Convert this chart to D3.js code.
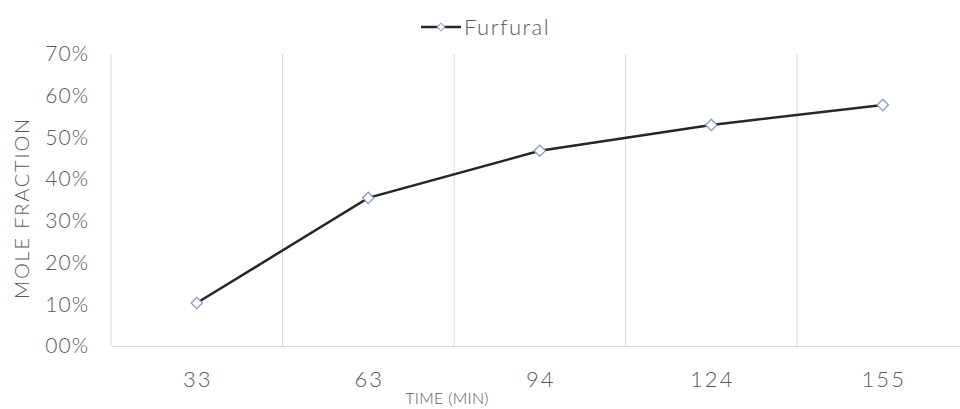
<!DOCTYPE html>
<html>
<head>
<meta charset="utf-8">
<script src="https://cdn.jsdelivr.net/npm/d3@7"></script>
<style>
  html, body { margin: 0; padding: 0; background: #fff; }
  svg { display: block; }
  svg text { font-family: "Lato", "Open Sans", sans-serif; font-weight: 300; }
</style>
</head>
<body>
<svg id="chart" width="960" height="409"></svg>
<script>
// Furfural mole fraction over reaction time
const categories = ["33", "63", "94", "124", "155"];
const furfural = [0.103, 0.355, 0.468, 0.530, 0.578];
const yTicks = [0, 0.1, 0.2, 0.3, 0.4, 0.5, 0.6, 0.7];
const seriesName = "Furfural";

const svg = d3.select("#chart");
const margin = { left: 111, right: -8.5, top: 54, bottom: 63 };
const W = 960, H = 409;

const x = d3.scaleBand()
  .domain(categories)
  .range([margin.left, W - margin.right])
  .padding(0);

const y = d3.scaleLinear()
  .domain([0, 0.7])
  .range([H - margin.bottom, margin.top]);

const textColor = "#595959";
const gridColor = "#d9d9d9";

// vertical gridlines at category boundaries
const bounds = categories.map(c => x(c)).concat([x(categories[categories.length - 1]) + x.bandwidth()]);
svg.append("g")
  .selectAll("line")
  .data(bounds)
  .join("line")
  .attr("x1", d => d).attr("x2", d => d)
  .attr("y1", y(0.7)).attr("y2", y(0))
  .attr("stroke", gridColor)
  .attr("stroke-width", 1);

// x axis
const xAxis = svg.append("g")
  .attr("transform", `translate(0,${y(0)})`)
  .call(d3.axisBottom(x).tickSize(0).tickPadding(25));
xAxis.select(".domain").attr("stroke", gridColor);
xAxis.selectAll("text")
  .attr("fill", textColor)
  .attr("dx", "1px")
  .style("font-size", "22px")
  .style("letter-spacing", "2px");

// y axis
const yFmt = v => (v === 0 ? "00" : d3.format(".0f")(v * 100)) + "%";
const yAxis = svg.append("g")
  .attr("transform", `translate(${margin.left},0)`)
  .call(d3.axisLeft(y).tickValues(yTicks).tickFormat(yFmt).tickSize(0).tickPadding(22));
yAxis.select(".domain").remove();
yAxis.selectAll("text")
  .attr("fill", textColor)
  .style("font-size", "21px")
  .style("letter-spacing", "1px");

// axis titles
svg.append("text")
  .attr("transform", `translate(29,${(y(0) + y(0.7)) / 2 + 8}) rotate(-90)`)
  .attr("text-anchor", "middle")
  .attr("fill", textColor)
  .style("font-size", "20px")
  .style("letter-spacing", "1.8px")
  .text("MOLE FRACTION");

svg.append("text")
  .attr("x", 447)
  .attr("y", 404)
  .attr("text-anchor", "middle")
  .attr("fill", textColor)
  .style("font-size", "16px")
  .style("letter-spacing", "0.3px")
  .text("TIME (MIN)");

// series line
const pts = categories.map((c, i) => [x(c) + x.bandwidth() / 2, y(furfural[i])]);
svg.append("path")
  .attr("d", d3.line()(pts))
  .attr("fill", "none")
  .attr("stroke", "#262626")
  .attr("stroke-width", 2.5);

// diamond markers
const diamond = d3.symbol().type(d3.symbolSquare).size(64);
svg.append("g")
  .selectAll("path")
  .data(pts)
  .join("path")
  .attr("d", diamond)
  .attr("transform", d => `translate(${d[0]},${d[1]}) rotate(45)`)
  .attr("fill", "#ffffff")
  .attr("stroke", "#8a9bc0")
  .attr("stroke-width", 1.3);

// legend
const lg = svg.append("g").attr("transform", "translate(441,27)");
lg.append("line")
  .attr("x1", -20).attr("x2", 20)
  .attr("stroke", "#262626").attr("stroke-width", 2.5);
lg.append("path")
  .attr("d", d3.symbol().type(d3.symbolSquare).size(30))
  .attr("transform", "rotate(45)")
  .attr("fill", "#fff").attr("stroke", "#8a9bc0").attr("stroke-width", 1);
lg.append("text")
  .attr("x", 23).attr("y", 0).attr("dy", "0.35em")
  .attr("fill", textColor)
  .style("font-size", "22px")
  .style("letter-spacing", "1.5px")
  .text(seriesName);
</script>
</body>
</html>
